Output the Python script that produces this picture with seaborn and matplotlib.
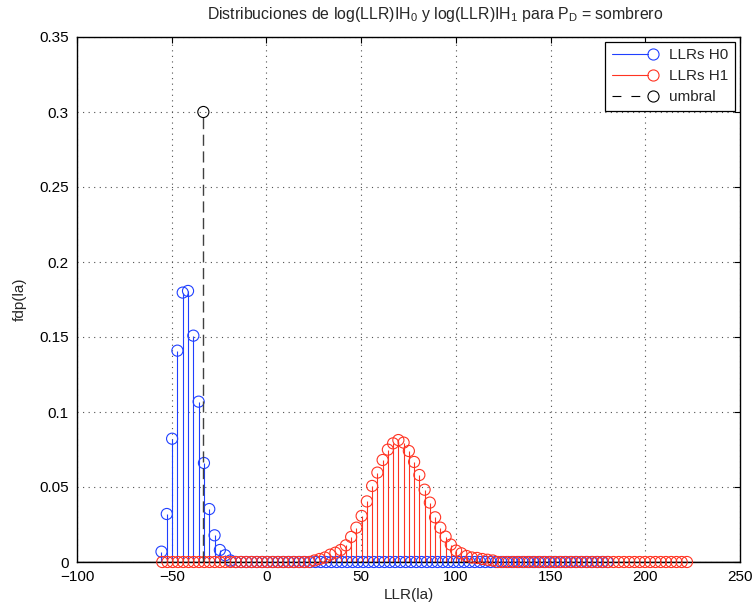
import numpy as np
import matplotlib
matplotlib.use("Agg")
import matplotlib.pyplot as plt
import seaborn as sns
from matplotlib.lines import Line2D
from matplotlib.legend_handler import HandlerLine2D

# ---------------- data ----------------
# bin centres (LLR) for each histogram
h0_start, h0_stop, h0_bins = -55.4, 180.0, 85
h1_start, h1_stop, h1_bins = -55.0, 222.0, 101

h0_values = [
    0.0069, 0.0320, 0.0822, 0.1409, 0.1796, 0.1807, 0.1509, 0.1069, 0.0660, 0.0353,
    0.0178, 0.0080, 0.0045, 0.0010, 0.0, 0.0, 0.0, 0.0, 0.0, 0.0,
    0.0, 0.0, 0.0, 0.0, 0.0, 0.0, 0.0, 0.0, 0.0, 0.0,
    0.0, 0.0, 0.0, 0.0, 0.0, 0.0, 0.0, 0.0, 0.0, 0.0,
    0.0, 0.0, 0.0, 0.0, 0.0, 0.0, 0.0, 0.0, 0.0, 0.0,
    0.0, 0.0, 0.0, 0.0, 0.0, 0.0, 0.0, 0.0, 0.0, 0.0,
    0.0, 0.0, 0.0, 0.0, 0.0, 0.0, 0.0, 0.0, 0.0, 0.0,
    0.0, 0.0, 0.0, 0.0, 0.0, 0.0, 0.0, 0.0, 0.0, 0.0,
    0.0, 0.0, 0.0, 0.0, 0.0,
]

h1_values = [
    0.0, 0.0, 0.0, 0.0, 0.0, 0.0, 0.0, 0.0, 0.0, 0.0,
    0.0, 0.0, 0.0, 0.0, 0.0, 0.0, 0.0, 0.0, 0.0, 0.0,
    0.0, 0.0, 0.0, 0.0, 0.0, 0.0, 0.0, 0.0, 0.0, 0.0010,
    0.0020, 0.0030, 0.0049, 0.0062, 0.0080, 0.0111, 0.0167, 0.0229, 0.0307, 0.0404,
    0.0507, 0.0596, 0.0680, 0.0749, 0.0791, 0.0813, 0.0796, 0.0740, 0.0667, 0.0580,
    0.0482, 0.0396, 0.0298, 0.0229, 0.0169, 0.0116, 0.0076, 0.0058, 0.0040, 0.0030,
    0.0027, 0.0020, 0.0015, 0.0010, 0.0, 0.0, 0.0, 0.0, 0.0, 0.0,
    0.0, 0.0, 0.0, 0.0, 0.0, 0.0, 0.0, 0.0, 0.0, 0.0,
    0.0, 0.0, 0.0, 0.0, 0.0, 0.0, 0.0, 0.0, 0.0, 0.0,
    0.0, 0.0, 0.0, 0.0, 0.0, 0.0, 0.0, 0.0, 0.0, 0.0,
    0.0,
]

umbral_x = [-33.3]
umbral_y = [0.30]

x_ticks = [-100, -50, 0, 50, 100, 150, 200, 250]
y_ticks = [0, 0.05, 0.1, 0.15, 0.2, 0.25, 0.3, 0.35]
y_tick_labels = ["0", "0.05", "0.1", "0.15", "0.2", "0.25", "0.3", "0.35"]
legend_labels = ["LLRs H0", "LLRs H1", "umbral"]

x_h0 = np.linspace(h0_start, h0_stop, h0_bins)
x_h1 = np.linspace(h1_start, h1_stop, h1_bins)

# ---------------- style ----------------
sns.set_style("white")
plt.rcParams['font.family'] = ['Liberation Sans', 'DejaVu Sans']
plt.rcParams['mathtext.fontset'] = 'custom'
plt.rcParams['mathtext.rm'] = 'Liberation Sans'
plt.rcParams['mathtext.it'] = 'Liberation Sans'
plt.rcParams['mathtext.default'] = 'regular'

FS = 11
BLUE = '#2040ff'
RED = '#ff3322'
UMB = '#404040'
MS = 8

fig = plt.figure(figsize=(7.54, 6.07), dpi=100)
ax = fig.add_axes([77 / 754, 1 - 562 / 607, (740 - 77) / 754, (562 - 37) / 607])

# H0
ax.vlines(x_h0, 0, h0_values, color=BLUE, lw=0.8, zorder=2)
sns.scatterplot(x=x_h0, y=h0_values, ax=ax, marker='o', s=MS ** 2,
                facecolor='none', edgecolor=BLUE, linewidth=0.8, zorder=3,
                clip_on=False)
# H1
ax.vlines(x_h1, 0, h1_values, color=RED, lw=0.8, zorder=4)
sns.scatterplot(x=x_h1, y=h1_values, ax=ax, marker='o', s=MS ** 2,
                facecolor='none', edgecolor=RED, linewidth=0.8, zorder=5,
                clip_on=False)
# umbral
ax.vlines(umbral_x, 0, umbral_y, color=UMB, lw=1.0, linestyles=[(0, (8, 4))], zorder=6)
sns.scatterplot(x=umbral_x, y=umbral_y, ax=ax, marker='o', s=MS ** 2,
                facecolor='none', edgecolor='k', linewidth=0.8, zorder=7)

ax.axhline(0, color='k', lw=1.0, zorder=8)

ax.set_xlim(-100, 250)
ax.set_ylim(0, 0.35)
ax.set_xticks(x_ticks)
ax.set_yticks(y_ticks)
ax.set_yticklabels(y_tick_labels)

ax.grid(True, linestyle=(0, (1, 4)), color='#505050', linewidth=0.8)
ax.set_axisbelow(True)
for s in ax.spines.values():
    s.set_color('k')
    s.set_linewidth(1.0)
    s.set_visible(True)
ax.tick_params(direction='in', length=4, width=0.8, top=True, right=True,
               labelsize=FS, colors='k')
ax.tick_params(axis='y', pad=6)
ax.tick_params(axis='x', pad=6)

ax.set_title("Distribuciones de log(LLR)IH$_0$ y log(LLR)IH$_1$ para P$_D$ = sombrero",
             fontsize=11.4, pad=13, x=0.54)
ax.set_xlabel("LLR(la)", fontsize=FS, labelpad=3)
ax.set_ylabel("fdp(la)", fontsize=FS, labelpad=9)


class EndMarkerHandler(HandlerLine2D):
    """Legend entry drawn MATLAB-style: a line ending in the marker."""
    def create_artists(self, legend, orig_handle, xdescent, ydescent,
                       width, height, fontsize, trans):
        x0 = -xdescent
        x1 = -xdescent + width
        y = (height - ydescent) / 2
        r = orig_handle.get_markersize() / 2
        line = Line2D([x0, x1 - r], [y, y])
        self.update_prop(line, orig_handle, legend)
        line.set_marker('')
        mk = Line2D([x1], [y])
        self.update_prop(mk, orig_handle, legend)
        mk.set_linestyle('None')
        line.set_transform(trans)
        mk.set_transform(trans)
        return [line, mk]


handles = [
    Line2D([], [], color=BLUE, lw=0.8, marker='o', markersize=MS, markeredgewidth=0.8,
           markerfacecolor='none', markeredgecolor=BLUE),
    Line2D([], [], color=RED, lw=0.8, marker='o', markersize=MS, markeredgewidth=0.8,
           markerfacecolor='none', markeredgecolor=RED),
    Line2D([], [], color='k', lw=0.8, ls=(0, (8, 9)), marker='o', markersize=MS,
           markeredgewidth=0.8, markerfacecolor='none', markeredgecolor='k'),
]
leg = ax.legend(handles, legend_labels, loc='upper right', fontsize=FS,
                handler_map={h: EndMarkerHandler() for h in handles},
                handlelength=2.7, handletextpad=1.05, borderaxespad=0.3,
                fancybox=False, framealpha=1, edgecolor='k', borderpad=0.45,
                labelspacing=0.45)
leg.get_frame().set_linewidth(0.9)

fig.savefig("out.png", dpi=100)
